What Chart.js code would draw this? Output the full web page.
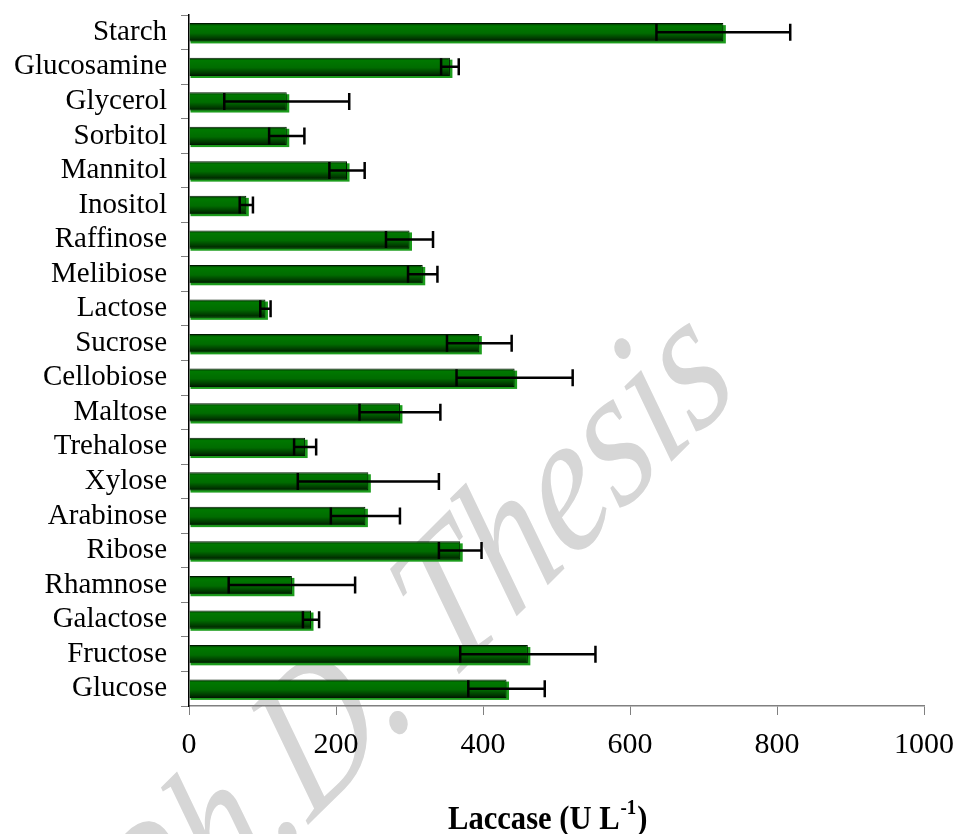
<!DOCTYPE html>
<html>
<head>
<meta charset="utf-8">
<script src="https://cdn.jsdelivr.net/npm/chart.js@4/dist/chart.umd.min.js"></script>
<style>
  html, body { margin: 0; padding: 0; background: #fff; }
  #wrap { width: 959px; height: 834px; position: relative; }
</style>
</head>
<body>
<div id="wrap"><canvas id="laccaseChart"></canvas></div>
<script>
const carbonSources = [
  "Starch", "Glucosamine", "Glycerol", "Sorbitol", "Mannitol", "Inositol",
  "Raffinose", "Melibiose", "Lactose", "Sucrose", "Cellobiose", "Maltose",
  "Trehalose", "Xylose", "Arabinose", "Ribose", "Rhamnose", "Galactose",
  "Fructose", "Glucose",
];
const laccase = [727, 355, 133, 133, 215, 78, 300, 318, 104, 395, 443, 287, 158, 244, 240, 369, 140, 166, 461, 432];
const laccaseErr = [91, 12, 85, 24, 24, 9, 32, 20, 7, 44, 79, 55, 15, 96, 47, 29, 86, 11, 92, 52];
const xTicks = [0, 200, 400, 600, 800, 1000];

const serif = '"Liberation Serif", "Times New Roman", serif';

// grey watermark behind everything
const watermark = {
  id: "watermark",
  beforeDraw(chart) {
    const ctx = chart.ctx;
    ctx.save();
    ctx.fillStyle = "#d6d6d6";
    ctx.translate(449, 684);
    ctx.rotate(-Math.PI / 4);
    ctx.transform(1, 0, -0.2, 1, 0, 0);
    ctx.scale(0.86, 1);
    ctx.font = "italic 188px " + serif;
    ctx.textBaseline = "alphabetic";
    ctx.textAlign = "right";
    ctx.fillText("Ph.D. ", 0, 0);
    ctx.textAlign = "left";
    ctx.fillText("Thesis", 0, 0);
    ctx.restore();
  },
};

// light green shadow edge behind each bar
const barShadow = {
  id: "barShadow",
  beforeDatasetsDraw(chart) {
    const ctx = chart.ctx;
    ctx.save();
    ctx.fillStyle = "#1c9c1c";
    chart.getDatasetMeta(0).data.forEach((bar) => {
      const p = bar.getProps(["x", "y", "base", "height"], true);
      ctx.fillRect(p.base + 1, p.y - p.height / 2 + 2, p.x - p.base + 1.5, p.height);
    });
    ctx.restore();
  },
};

const errorBars = {
  id: "errorBars",
  afterDatasetsDraw(chart) {
    const ctx = chart.ctx;
    const xs = chart.scales.x;
    const ys = chart.scales.y;
    ctx.save();
    ctx.strokeStyle = "#000";
    ctx.lineWidth = 2.5;
    laccase.forEach((v, i) => {
      const y = ys.getPixelForValue(i);
      const lo = xs.getPixelForValue(v - laccaseErr[i]);
      const hi = xs.getPixelForValue(v + laccaseErr[i]);
      ctx.beginPath();
      ctx.moveTo(lo, y);
      ctx.lineTo(hi, y);
      ctx.moveTo(lo, y - 8.5);
      ctx.lineTo(lo, y + 8.5);
      ctx.moveTo(hi, y - 8.5);
      ctx.lineTo(hi, y + 8.5);
      ctx.stroke();
    });
    ctx.restore();
  },
};

// axis title with superscript, slightly condensed like the original
const axisTitle = {
  id: "axisTitle",
  afterDraw(chart) {
    const ctx = chart.ctx;
    ctx.save();
    ctx.fillStyle = "#000";
    ctx.textBaseline = "alphabetic";
    ctx.textAlign = "left";
    ctx.translate(448, 829);
    ctx.scale(0.9, 1);
    let x = 0;
    ctx.font = "bold 34px " + serif;
    ctx.fillText("Laccase (U L", x, 0);
    x += ctx.measureText("Laccase (U L").width;
    ctx.font = "bold 21px " + serif;
    ctx.fillText("-1", x + 1, -15);
    x += ctx.measureText("-1").width + 2;
    ctx.font = "bold 34px " + serif;
    ctx.fillText(")", x, 0);
    ctx.restore();
  },
};

function barGradient(context) {
  const chart = context.chart;
  const ys = chart.scales.y;
  if (!ys || !chart.chartArea) return "#006e00";
  const y = ys.getPixelForValue(context.dataIndex);
  const g = chart.ctx.createLinearGradient(0, y - 9, 0, y + 9);
  g.addColorStop(0, "#003000");
  g.addColorStop(0.15, "#007800");
  g.addColorStop(0.55, "#006c00");
  g.addColorStop(0.85, "#003800");
  g.addColorStop(1, "#001800");
  return g;
}

const ctx = document.getElementById("laccaseChart").getContext("2d");
new Chart(ctx, {
  type: "bar",
  data: {
    labels: carbonSources,
    datasets: [
      {
        label: "Laccase",
        data: laccase,
        backgroundColor: barGradient,
        borderColor: "#001a00",
        borderWidth: 1,
        barPercentage: 0.53,
        categoryPercentage: 1,
      },
    ],
  },
  options: {
    indexAxis: "y",
    responsive: true,
    maintainAspectRatio: false,
    animation: false,
    layout: { padding: { top: 15, right: 35, left: 0, bottom: 0 } },
    plugins: {
      legend: { display: false },
      tooltip: { enabled: false },
    },
    scales: {
      x: {
        min: 0,
        max: 1000,
        afterBuildTicks(scale) {
          scale.ticks = xTicks.map((v) => ({ value: v }));
        },
        afterFit(scale) {
          scale.height = 128;
          scale.paddingLeft = 0;
          scale.paddingRight = 0;
        },
        grid: {
          drawOnChartArea: false,
          drawTicks: true,
          tickLength: 9,
          color: "#808080",
        },
        border: { color: "#808080", width: 1.5 },
        ticks: {
          color: "#000",
          padding: 12,
          callback: (v) => String(v),
          font: { family: serif, size: 30, lineHeight: 1.2 },
        },
      },
      y: {
        afterFit(scale) {
          scale.width = 189;
          scale.paddingTop = 0;
          scale.paddingBottom = 0;
        },
        grid: {
          drawOnChartArea: false,
          drawTicks: true,
          tickLength: 8,
          color: "#808080",
          offset: true,
        },
        border: { color: "#000", width: 1.5 },
        ticks: {
          autoSkip: false,
          color: "#000",
          padding: 14,
          font: { family: serif, size: 29, lineHeight: 1 },
        },
      },
    },
  },
  plugins: [watermark, barShadow, errorBars, axisTitle],
});
</script>
</body>
</html>
